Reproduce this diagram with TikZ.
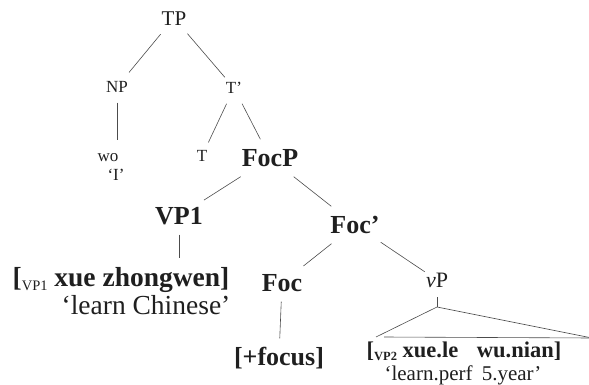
\documentclass[tikz,border=0pt]{standalone}
\usepackage{fontspec}
\setmainfont{Liberation Serif}
\usetikzlibrary{graphs, positioning}

\tikzset{
	branch/.style={draw=black!70, line width=0.6pt},
}

\begin{document}
\begin{tikzpicture}[node distance=10pt, on grid,
		every node/.style={text=black!88, text depth=0pt, inner ysep=10pt, inner xsep=1pt},
		cat/.style={font=\fontsize{17}{19}\selectfont, text height=11pt},
		rootcat/.style={font=\fontsize{21}{23}\selectfont, text height=14pt},
		boldcat/.style={font=\bfseries\fontsize{26}{28}\selectfont, text height=17pt},
		boldleaf/.style={font=\bfseries\fontsize{27.5}{29}\selectfont, text height=18pt},
		vcat/.style={font=\fontsize{22}{24}\selectfont, text height=14.5pt},
		gloss/.style={font=\fontsize{27.5}{29}\selectfont, text height=18pt},
		smallgloss/.style={font=\fontsize{21}{23}\selectfont, text height=14pt},
		smallleaf/.style={font=\bfseries\fontsize{22.5}{24}\selectfont, text height=15pt}]
		\useasboundingbox (0,0) rectangle (589pt,384pt);
		
		\node[rootcat] at (174pt,366pt)                     (tp)     {TP};
		\node[cat, below left=69pt and 57pt of tp]          (np)     {NP};
		\node[cat, below right=70pt and 60pt of tp]         (tbar)   {T'};
		\node[cat, below left=69pt and 9pt of np]           (wo)     {wo};
		\node[cat, below right=19pt and 8pt of wo]          (woI)    {`I'};
		\node[cat, below left=68pt and 32pt of tbar]        (t)      {T};
		\node[boldcat, below right=70pt and 36pt of tbar]   (focp)   {FocP};
		\node[boldcat, below left=58pt and 91pt of focp]    (vp1)    {VP1};
		\node[boldcat, below right=67pt and 85pt of focp]   (focbar) {Foc'};
		\node[boldleaf, below left=61pt and 58pt of vp1]    (vp1w)
			{[\raisebox{-4pt}{\mdseries\fontsize{14.5}{14.5}\selectfont VP1} xue zhongwen]};
		\node[gloss, below right=28pt and 25pt of vp1w]     (vp1g)   {`learn Chinese'};
		\node[boldcat, below left=58pt and 73pt of focbar]  (foc)    {Foc};
		\node[vcat, below right=55pt and 82pt of focbar]    (vp)     {\textit{v}P};
		\node[boldcat, below left=74pt and 3pt of foc]      (plus)   {[+focus]};
		\node[smallleaf, below right=70pt and 27pt of vp]   (vp2w)
			{[\raisebox{-3pt}{\fontsize{12.5}{12.5}\selectfont VP2} xue.le\hspace{13pt} wu.nian]};
		\node[smallgloss, below left=23pt and 1pt of vp2w]  (vp2g)   {`learn.perf\hspace{4pt} 5.year'};
		
		\coordinate (woend)   at (np |- wo.north);
		\coordinate (vp1end)  at (vp1 |- vp1w.north);
		\coordinate[below=27pt of vp]                       (apex);
		\coordinate[below left=30pt and 61pt of apex]       (triL);
		\coordinate[below right=31pt and 155pt of apex]     (triR);
		\coordinate[right=8pt of triL]                      (baseL);
		
		\graph[edges={branch}]{
			(tp) -- (np) -- (woend);
			(tp) -- (tbar) -- (t);
			(tbar) -- (focp) -- (vp1) -- (vp1end);
			(focp) -- (focbar) -- (foc) -- (plus);
			(focbar) -- (vp) -- (apex) -- (triL);
			(apex) -- (triR) -- (baseL);
		};
	\end{tikzpicture}
\end{document}
